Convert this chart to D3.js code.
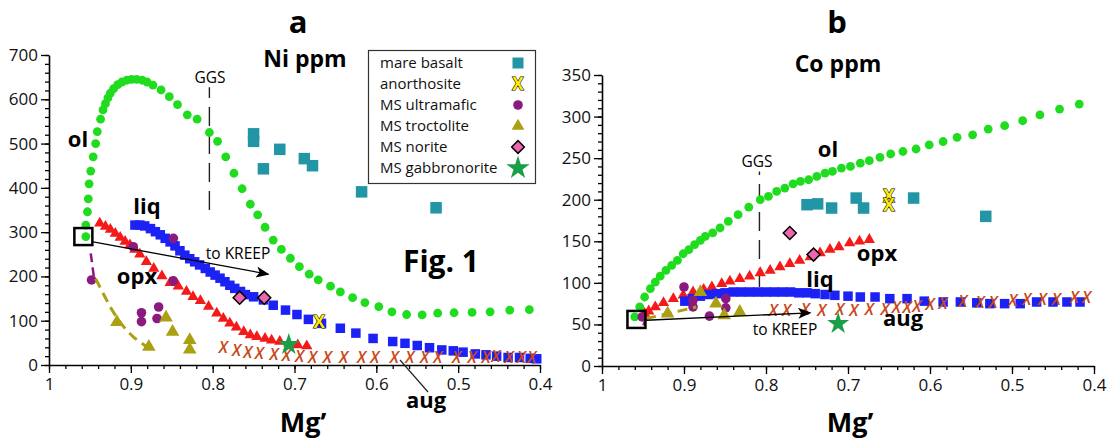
<!DOCTYPE html>
<html>
<head>
<meta charset="utf-8">
<script src="https://cdn.jsdelivr.net/npm/d3@7"></script>
<style>
  body { margin: 0; background: white; }
  text { font-family: "Open Sans", "Noto Sans", sans-serif; }
  .tick text { font-size: 17px; fill: #111; }
</style>
</head>
<body>
<div id="chart"></div>
<script>
// ---- tick values
var mgTicks = [1, 0.9, 0.8, 0.7, 0.6, 0.5, 0.4];
var niTicks = [0, 100, 200, 300, 400, 500, 600, 700];
var coTicks = [0, 50, 100, 150, 200, 250, 300, 350];

// ---- panel a: Ni ppm  [Mg', ppm]
var niOl = [[0.955,290],[0.955,316],[0.953,346],[0.952,375],[0.951,409],[0.949,438],[0.946,470],[0.943,500],
  [0.941,527],[0.937,555],[0.934,576],[0.931,590],[0.928,603],[0.925,614],[0.921,624],[0.916,633],[0.911,639],
  [0.905,643],[0.899,645],[0.893,645],[0.886,643],[0.880,639],[0.873,632],[0.863,621],[0.853,606],[0.843,588],
  [0.831,565],[0.819,555],[0.804,525],[0.794,505],[0.784,470],[0.774,433],[0.764,398],[0.754,363],[0.745,339],
  [0.736,311],[0.726,282],[0.716,261],[0.705,241],[0.694,222],[0.682,205],[0.671,192],[0.656,178],[0.644,165],
  [0.629,152],[0.614,141],[0.597,132],[0.581,120],[0.563,114],[0.544,113],[0.525,117],[0.505,118],[0.483,119],
  [0.461,120],[0.437,124],[0.413,125]];
var niLiq = [[0.895,316],[0.889,316],[0.883,314],[0.876,308],[0.870,301],[0.864,294],[0.858,286],[0.852,278],
  [0.846,269],[0.840,258],[0.834,248],[0.828,240],[0.822,233],[0.816,226],[0.809,218],[0.803,210],[0.797,203],
  [0.791,196],[0.785,188],[0.779,180],[0.773,173],[0.766,166],[0.760,159],[0.750,154],[0.738,147],[0.726,135],
  [0.711,124],[0.697,114],[0.683,103],[0.667,94],[0.644,83],[0.625,72],[0.604,60],[0.580,53],[0.565,49],
  [0.550,44],[0.535,39],[0.520,34],[0.506,32],[0.494,29],[0.479,25],[0.466,23],[0.453,20],[0.439,17],
  [0.425,17],[0.412,15],[0.404,14]];
var niOpx = [[0.938,320],[0.931,313],[0.925,306],[0.919,297],[0.913,288],[0.907,279],[0.901,271],[0.895,261],
  [0.889,250],[0.881,233],[0.872,218],[0.862,201],[0.852,186],[0.842,178],[0.832,166],[0.824,154],[0.815,145],
  [0.805,132],[0.795,117],[0.787,105],[0.779,94],[0.771,85],[0.762,75],[0.754,68],[0.746,64],[0.736,60],
  [0.728,56],[0.718,53],[0.707,49],[0.696,45],[0.685,43]];
var niAug = [[0.787,41],[0.771,34],[0.757,30],[0.743,28],[0.725,25],[0.710,23],[0.694,20],[0.678,19],[0.660,19],
  [0.640,19],[0.618,19],[0.602,19],[0.578,18],[0.559,19],[0.541,19],[0.525,19],[0.502,19],[0.483,17],[0.466,19],
  [0.454,20],[0.438,17],[0.423,19],[0.410,17]];
var niMare = [[0.750,522],[0.750,505],[0.738,443],[0.718,487],[0.688,466],[0.678,450],[0.618,391],[0.527,355]];
var niAno = [[0.670,98]];
var niUltra = [[0.948,192],[0.897,267],[0.848,286],[0.848,190],[0.887,118],[0.887,98],[0.866,131],[0.868,105]];
var niTroc = [[0.917,97],[0.878,41],[0.857,107],[0.849,75],[0.828,56],[0.828,35]];
var niNorite = [[0.767,152],[0.737,152]];
var niGabbro = [[0.707,46]];
var niPurpleDash = [[0.949,252],[0.947,225],[0.945,196]];
var niOliveDash = [[0.943,195],[0.932,155],[0.922,120],[0.910,88],[0.897,62],[0.882,43]];
var niArrow = [[0.946,278],[0.732,205]];
var niStart = [0.958,290];
var niGGS = [0.804, 350, 627];

// ---- panel b: Co ppm
var coOl = [[0.960,59],[0.954,71],[0.948,83],[0.941,93],[0.935,101],[0.929,108],[0.922,115],[0.915,121],
  [0.908,127],[0.901,135],[0.894,140],[0.887,146],[0.880,151],[0.874,156],[0.865,160],[0.856,166],[0.846,174],
  [0.834,182],[0.821,191],[0.807,200],[0.797,204],[0.787,210],[0.777,214],[0.767,219],[0.758,222],[0.748,224],
  [0.738,228],[0.728,232],[0.719,234],[0.708,238],[0.697,240],[0.685,244],[0.674,247],[0.661,251],[0.648,255],
  [0.633,258],[0.617,261],[0.601,266],[0.584,270],[0.567,275],[0.548,278],[0.529,285],[0.509,289],[0.487,295],
  [0.466,302],[0.442,309],[0.418,315]];
var coLiq = [[0.899,78],[0.890,81],[0.880,84],[0.870,86],[0.860,87],[0.850,88],[0.840,89],[0.830,89],[0.820,89],
  [0.810,89],[0.800,89],[0.790,89],[0.780,89],[0.770,89],[0.760,88],[0.750,88],[0.740,87],[0.728,86],[0.716,85],
  [0.700,84],[0.685,83],[0.667,83],[0.649,81],[0.628,81],[0.607,78],[0.584,77],[0.563,77],[0.543,76],[0.527,75],
  [0.509,75],[0.490,75],[0.470,77],[0.450,77],[0.433,77],[0.417,77]];
var coOpx = [[0.948,63],[0.943,66],[0.935,71],[0.925,76],[0.913,81],[0.901,85],[0.889,89],[0.876,92],[0.866,95],
  [0.854,99],[0.844,102],[0.832,105],[0.820,108],[0.807,112],[0.795,115],[0.783,119],[0.771,123],[0.759,127],
  [0.746,131],[0.734,136],[0.722,140],[0.711,143],[0.698,148],[0.686,150],[0.674,152]];
var coAug = [[0.791,67],[0.775,67],[0.752,69],[0.732,67],[0.710,68],[0.693,67],[0.674,68],[0.655,69],[0.641,71],
  [0.628,71],[0.616,72],[0.600,74],[0.584,76],[0.560,78],[0.539,77],[0.523,77],[0.499,79],[0.482,80],[0.463,81],
  [0.446,81],[0.424,83],[0.409,83]];
var coMare = [[0.750,194],[0.737,195],[0.720,190],[0.690,202],[0.681,190],[0.620,202],[0.532,180]];
var coAno = [[0.650,204],[0.650,194]];
var coUltra = [[0.951,59],[0.900,95],[0.889,79],[0.889,71],[0.869,60],[0.849,81],[0.849,70]];
var coTroc = [[0.920,63],[0.880,89],[0.861,75],[0.851,61],[0.832,65]];
var coNorite = [[0.771,160],[0.742,134]];
var coGabbro = [[0.712,51]];
var coPurpleDash = [[0.946,59],[0.950,47]];
var coOliveDash = [[0.946,57],[0.915,64],[0.885,71]];
var coArrow = [[0.946,55],[0.746,64]];
var coStart = [0.958,56];
var coGGS = [0.808, 95, 234];

var legendNames = ["mare basalt", "anorthosite", "MS ultramafic", "MS troctolite", "MS norite", "MS gabbronorite"];

var width = 1109, height = 441;
var svg = d3.select("#chart").append("svg")
  .attr("width", width).attr("height", height)
  .style("background", "white");

svg.append("defs").append("marker")
  .attr("id", "arrow").attr("viewBox", "0 0 12 10")
  .attr("refX", 11).attr("refY", 5)
  .attr("markerWidth", 14).attr("markerHeight", 11)
  .attr("markerUnits", "userSpaceOnUse").attr("orient", "auto")
  .append("path").attr("d", "M0,0 L12,5 L0,10 L3,5 Z").attr("fill", "black");

var colors = {
  ol: "#1fdc1f", liq: "#1c22f5", opx: "#f51a1a", aug: "#c9481a",
  mare: "#2396a6", ultra: "#8a1a80", troc: "#aaa012", norite: "#ee66b0", gabbro: "#1a9e48"
};

function dots(g, data, x, y, r, col) {
  g.selectAll(null).data(data).enter().append("circle")
    .attr("cx", function(d) { return x(d[0]); })
    .attr("cy", function(d) { return y(d[1]); })
    .attr("r", r).attr("fill", col);
}
function squares(g, data, x, y, s, col) {
  g.selectAll(null).data(data).enter().append("rect")
    .attr("x", function(d) { return x(d[0]) - s / 2; })
    .attr("y", function(d) { return y(d[1]) - s / 2; })
    .attr("width", s).attr("height", s).attr("fill", col);
}
function symbols(g, data, x, y, type, size, col, stroke, rot) {
  g.selectAll(null).data(data).enter().append("path")
    .attr("d", d3.symbol().type(type).size(size))
    .attr("transform", function(d) {
      return "translate(" + x(d[0]) + "," + y(d[1]) + ")" + (rot ? " rotate(" + rot + ")" : "");
    })
    .attr("fill", col)
    .attr("stroke", stroke || "none")
    .attr("stroke-width", stroke ? 1.5 : 0);
}
// augite marks are italic X glyphs
function crosses(g, data, x, y, col) {
  g.selectAll(null).data(data).enter().append("text")
    .attr("x", function(d) { return x(d[0]); })
    .attr("y", function(d) { return y(d[1]) + 6; })
    .attr("text-anchor", "middle")
    .attr("font-size", "16px").attr("font-style", "italic").attr("font-weight", 600)
    .attr("fill", col).text("X");
}
function anorth(g, data, x, y) {
  g.selectAll(null).data(data).enter().append("text")
    .attr("x", function(d) { return x(d[0]); })
    .attr("y", function(d) { return y(d[1]) + 6; })
    .attr("text-anchor", "middle")
    .attr("font-size", "17px").attr("font-weight", "bold")
    .attr("fill", "#ffee00").attr("stroke", "black").attr("stroke-width", 1.1)
    .attr("paint-order", "stroke")
    .text("X");
}
function label(g, x, y, txt, size, bold) {
  g.append("text").attr("x", x).attr("y", y)
    .attr("text-anchor", "middle")
    .attr("font-size", size + "px")
    .attr("font-weight", bold ? "bold" : "normal")
    .text(txt);
}

function drawPanel(p) {
  var x = d3.scaleLinear().domain([1, 0.4]).range(p.xr);
  var y = d3.scaleLinear().domain([0, p.ymax]).range(p.yr);
  var g = svg.append("g");

  // minor ticks
  var minorX = d3.range(0, 31).map(function(i) { return 1 - i * 0.02; });
  var minorY = d3.range(0, p.ymax + 0.001, p.minor);
  g.append("g").attr("transform", "translate(0," + p.yr[0] + ")")
    .call(d3.axisBottom(x).tickValues(minorX).tickSize(4).tickFormat(""))
    .call(function(a) { a.select(".domain").remove(); });
  g.append("g").attr("transform", "translate(" + p.xr[0] + ",0)")
    .call(d3.axisLeft(y).tickValues(minorY).tickSize(4).tickFormat(""))
    .call(function(a) { a.select(".domain").remove(); });

  g.append("g").attr("transform", "translate(0," + p.yr[0] + ")")
    .call(d3.axisBottom(x).tickValues(mgTicks).tickSize(8).tickSizeOuter(0).tickPadding(5)
      .tickFormat(function(d) { return d === 1 ? "1" : d3.format(".1f")(d); }));
  g.append("g").attr("transform", "translate(" + p.xr[0] + ",0)")
    .call(d3.axisLeft(y).tickValues(p.yTicks).tickSize(8).tickSizeOuter(0).tickPadding(3));
  g.selectAll(".domain").attr("stroke-width", 1.6);
  g.selectAll(".tick line").attr("stroke-width", 1.3);

  // GGS dashed line
  g.append("line")
    .attr("x1", x(p.ggs[0])).attr("x2", x(p.ggs[0]))
    .attr("y1", y(p.ggs[1])).attr("y2", y(p.ggs[2]))
    .attr("stroke", "#222").attr("stroke-width", 1.4).attr("stroke-dasharray", "19,9");

  // model curves
  dots(g, p.ol, x, y, 4.4, colors.ol);
  symbols(g, p.opx, x, y, d3.symbolTriangle, 55, colors.opx);
  squares(g, p.liq, x, y, 9.5, colors.liq);
  crosses(g, p.aug, x, y, colors.aug);

  // samples
  squares(g, p.mare, x, y, 11.5, colors.mare);
  dots(g, p.ultra, x, y, 4.8, colors.ultra);
  symbols(g, p.troc, x, y, d3.symbolTriangle, 80, colors.troc);
  symbols(g, p.norite, x, y, d3.symbolSquare, 85, colors.norite, "black", 45);
  symbols(g, p.gabbro, x, y, d3.symbolStar, 150, colors.gabbro);
  anorth(g, p.ano, x, y);

  var line = d3.line().x(function(d) { return x(d[0]); }).y(function(d) { return y(d[1]); })
    .curve(d3.curveBasis);
  g.append("path").attr("d", line(p.purpleDash)).attr("fill", "none")
    .attr("stroke", colors.ultra).attr("stroke-width", 2.5).attr("stroke-dasharray", "9,5");
  g.append("path").attr("d", line(p.oliveDash)).attr("fill", "none")
    .attr("stroke", colors.troc).attr("stroke-width", 3).attr("stroke-dasharray", "10,6");

  // starting composition box
  g.append("rect")
    .attr("x", x(p.start[0]) - 9).attr("y", y(p.start[1]) - 8.5)
    .attr("width", 18).attr("height", 17)
    .attr("fill", "none").attr("stroke", "black").attr("stroke-width", 2.5);

  // arrow to KREEP
  g.append("line")
    .attr("x1", x(p.arrow[0][0])).attr("y1", y(p.arrow[0][1]))
    .attr("x2", x(p.arrow[1][0])).attr("y2", y(p.arrow[1][1]))
    .attr("stroke", "black").attr("stroke-width", 1.3)
    .attr("marker-end", "url(#arrow)");

  return { g: g, x: x, y: y };
}

drawPanel({
  xr: [49, 540], yr: [365, 55], ymax: 700, minor: 20, yTicks: niTicks,
  ol: niOl, liq: niLiq, opx: niOpx, aug: niAug, mare: niMare, ano: niAno, ultra: niUltra,
  troc: niTroc, norite: niNorite, gabbro: niGabbro, purpleDash: niPurpleDash, oliveDash: niOliveDash,
  arrow: niArrow, start: niStart, ggs: niGGS
});
drawPanel({
  xr: [602, 1094], yr: [366, 75], ymax: 350, minor: 10, yTicks: coTicks,
  ol: coOl, liq: coLiq, opx: coOpx, aug: coAug, mare: coMare, ano: coAno, ultra: coUltra,
  troc: coTroc, norite: coNorite, gabbro: coGabbro, purpleDash: coPurpleDash, oliveDash: coOliveDash,
  arrow: coArrow, start: coStart, ggs: coGGS
});

// panel a text
label(svg, 298, 33, "a", 31, true);
label(svg, 305, 67, "Ni ppm", 23, true);
label(svg, 303, 432, "Mg\u2019", 27, true);
label(svg, 210, 83, "GGS", 15.5, false);
label(svg, 78, 147, "ol", 22, true);
label(svg, 147, 214, "liq", 22, true);
label(svg, 137, 284, "opx", 22, true);
label(svg, 238, 259, "to KREEP", 15.5, false);
label(svg, 441, 272, "Fig. 1", 30, true);
label(svg, 426, 408, "aug", 22, true);
svg.append("line").attr("x1", 428).attr("y1", 392).attr("x2", 400).attr("y2", 360)
  .attr("stroke", "#222").attr("stroke-width", 1.2);

// panel b text
label(svg, 837, 33, "b", 31, true);
label(svg, 838, 72, "Co ppm", 23, true);
label(svg, 850, 432, "Mg\u2019", 27, true);
label(svg, 757, 167, "GGS", 15.5, false);
label(svg, 828, 157, "ol", 22, true);
label(svg, 820, 287, "liq", 22, true);
label(svg, 877, 261, "opx", 22, true);
label(svg, 903, 326, "aug", 22, true);
label(svg, 785, 335, "to KREEP", 15.5, false);

// legend
var lg = svg.append("g");
lg.append("rect").attr("x", 368.5).attr("y", 50.5).attr("width", 167).attr("height", 133)
  .attr("fill", "white").attr("stroke", "#333").attr("stroke-width", 1.2);
var rowY = d3.scalePoint().domain(legendNames).range([63, 168]);
lg.selectAll(null).data(legendNames).enter().append("text")
  .attr("x", 380).attr("y", function(d) { return rowY(d) + 5; })
  .attr("font-size", "15px").attr("fill", "#111").text(function(d) { return d; });
var lx = function() { return 518; };
var ly = function(v) { return rowY(v); };
squares(lg, [[0, legendNames[0]]], lx, ly, 11, colors.mare);
anorth(lg, [[0, legendNames[1]]], lx, ly);
dots(lg, [[0, legendNames[2]]], lx, ly, 4.8, colors.ultra);
symbols(lg, [[0, legendNames[3]]], lx, ly, d3.symbolTriangle, 70, colors.troc);
symbols(lg, [[0, legendNames[4]]], lx, ly, d3.symbolSquare, 80, colors.norite, "black", 45);
symbols(lg, [[0, legendNames[5]]], lx, ly, d3.symbolStar, 170, colors.gabbro);
</script>
</body>
</html>
